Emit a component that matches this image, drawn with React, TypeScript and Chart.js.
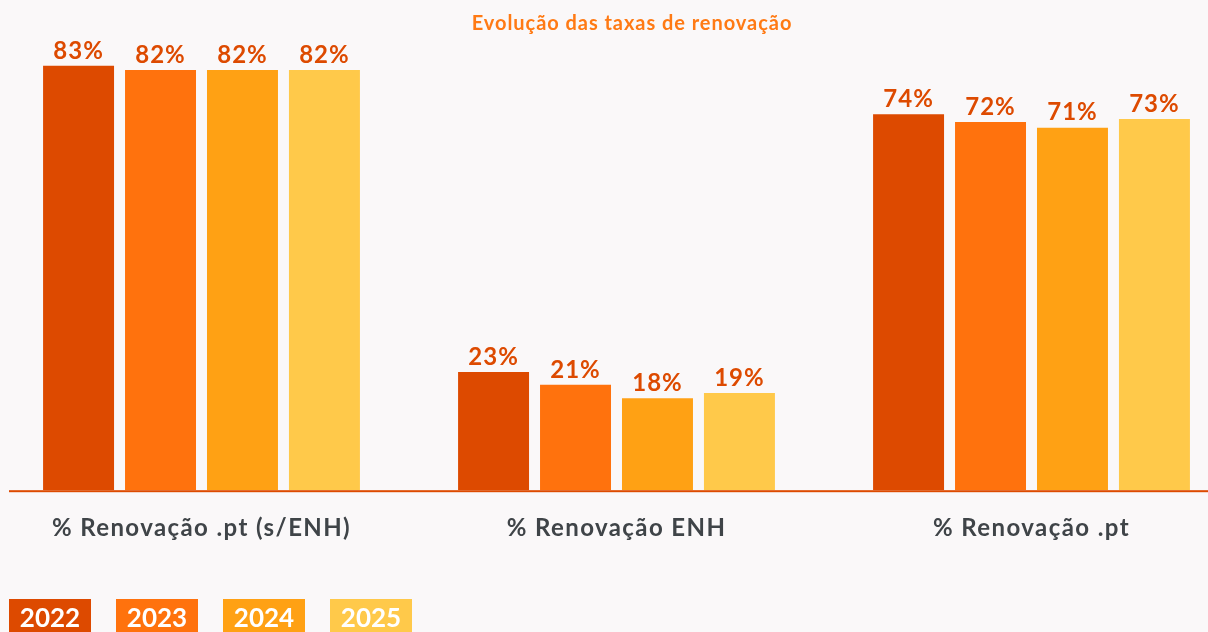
import React, { useEffect, useRef } from "react";
import { Chart, registerables } from "chart.js";

Chart.register(...registerables);

const categories = ["% Renovação .pt (s/ENH)", "% Renovação ENH", "% Renovação .pt"];
const seriesLabels = ["2022", "2023", "2024", "2025"];
const values2022 = [83.0, 23.1, 73.5];
const values2023 = [82.2, 20.6, 72.0];
const values2024 = [82.2, 18.0, 70.9];
const values2025 = [82.2, 19.0, 72.6];
const seriesColors = ["#DD4A00", "#FF720D", "#FFA114", "#FFC94A"];
const seriesValues = [values2022, values2023, values2024, values2025];
const titleText = "Evolução das taxas de renovação";

const FONT = "Lato, 'Noto Sans', sans-serif";

const spacingPlugin = {
  id: "spacing",
  beforeDraw(chart: any) {
    chart.ctx.letterSpacing = "1.4px";
  },
  afterDraw(chart: any) {
    chart.ctx.letterSpacing = "0px";
  },
};

const valueLabelPlugin = {
  id: "valueLabels",
  afterDatasetsDraw(chart: any) {
    const ctx = chart.ctx;
    ctx.save();
    ctx.letterSpacing = "1px";
    ctx.font = `bold 24px ${FONT}`;
    ctx.fillStyle = "#DD4A00";
    ctx.textAlign = "center";
    ctx.textBaseline = "bottom";
    chart.data.datasets.forEach((ds: any, di: number) => {
      const meta = chart.getDatasetMeta(di);
      meta.data.forEach((bar: any, i: number) => {
        ctx.fillText(Math.round(ds.data[i]) + "%", bar.x, bar.y - 3);
      });
    });
    ctx.restore();
  },
};

const baselinePlugin = {
  id: "baseline",
  afterDatasetsDraw(chart: any) {
    const ctx = chart.ctx;
    const y = chart.scales.y.getPixelForValue(0);
    ctx.save();
    ctx.fillStyle = "#DD4A00";
    ctx.fillRect(chart.chartArea.left + 15, y, chart.chartArea.right - chart.chartArea.left, 2);
    ctx.restore();
  },
};

export default function App() {
  const canvasRef = useRef<HTMLCanvasElement>(null);

  useEffect(() => {
    if (!canvasRef.current) return;
    const chart = new Chart(canvasRef.current, {
      type: "bar",
      data: {
        labels: categories,
        datasets: seriesLabels.map((label, i) => ({
          label,
          data: seriesValues[i],
          backgroundColor: seriesColors[i],
          borderWidth: 0,
          categoryPercentage: 0.79,
          barPercentage: 0.866,
        })),
      },
      options: {
        animation: false,
        responsive: false,
        maintainAspectRatio: false,
        layout: { padding: { top: 30, bottom: 65, left: 0, right: 0 } },
        plugins: {
          legend: { display: false },
          title: { display: false },
          tooltip: { enabled: false },
        },
        scales: {
          x: {
            grid: { display: false, drawTicks: false },
            border: { display: false },
            ticks: {
              padding: 24,
              color: "#3F4448",
              font: { family: FONT, size: 24, weight: "bold" },
              maxRotation: 0,
              autoSkip: false,
            },
          },
          y: {
            display: false,
            min: 0,
            max: 90,
          },
        },
      },
      plugins: [spacingPlugin, valueLabelPlugin, baselinePlugin],
    });
    return () => chart.destroy();
  }, []);

  return (
    <div
      style={{
        position: "fixed",
        left: 0,
        top: 0,
        width: 1208,
        height: 632,
        overflow: "hidden",
        background: "#FAF8F9",
      }}
    >
      <div style={{ position: "absolute", left: -6, top: 0, width: 1245, height: 632 }}>
        <canvas ref={canvasRef} width={1245} height={632} style={{ width: 1245, height: 632, display: "block" }} />
      </div>
      <div
        style={{
          position: "absolute",
          left: 0,
          top: 10,
          width: 1264,
          textAlign: "center",
          fontFamily: FONT,
          fontWeight: "bold",
          fontSize: 20,
          letterSpacing: "0.95px",
          lineHeight: "24px",
          color: "#FF7A14",
        }}
      >
        {titleText}
      </div>
      <div style={{ position: "absolute", left: 9, top: 599, display: "flex", gap: 25 }}>
        {seriesLabels.map((label, i) => (
          <div
            key={label}
            style={{
              width: 82,
              height: 40,
              background: seriesColors[i],
              color: "#FFFFFF",
              fontFamily: FONT,
              fontWeight: "bold",
              fontSize: 26,
              lineHeight: "36px",
              textAlign: "center",
            }}
          >
            {label}
          </div>
        ))}
      </div>
    </div>
  );
}
